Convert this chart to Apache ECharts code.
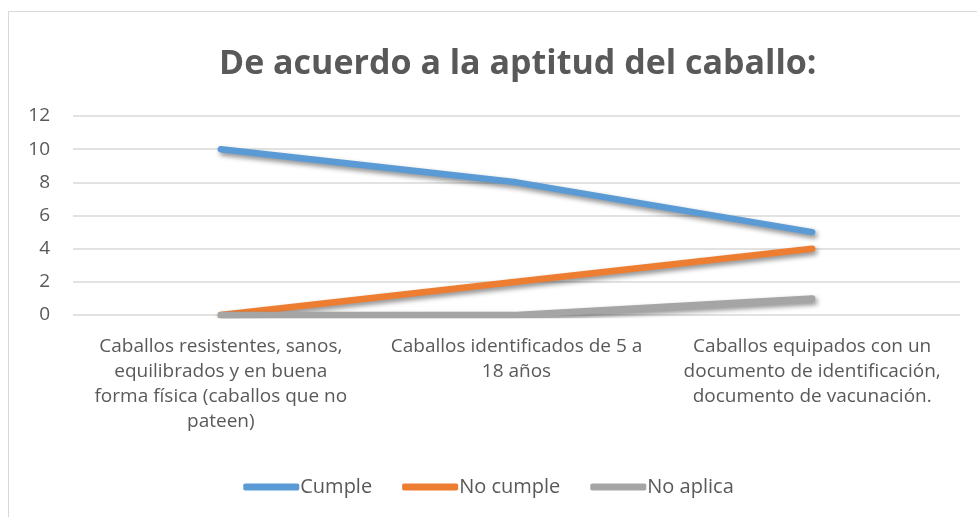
<!DOCTYPE html>
<html>
<head>
<meta charset="utf-8">
<script src="https://cdn.jsdelivr.net/npm/echarts@6/dist/echarts.min.js"></script>
<style>
  html, body { margin: 0; padding: 0; background: #fff; }
  #frame { position: absolute; left: 8px; top: 11px; width: 990px; height: 520px; border: 1px solid #d9d9d9; box-sizing: border-box; }
  #main { position: absolute; left: 0; top: 0; width: 977px; height: 517px; }
</style>
</head>
<body>
<div id="frame"></div>
<div id="main"></div>
<script>
  // categorias y series
  var categories = [
    'Caballos resistentes, sanos,\nequilibrados y en buena\nforma física (caballos que no\npateen)',
    'Caballos identificados de 5 a\n18 años',
    'Caballos equipados con un\ndocumento de identificación,\ndocumento de vacunación.'
  ];
  var cumple = [10, 8, 5];
  var noCumple = [0, 2, 4];
  var noAplica = [0, 0, 1];

  var font = "'Open Sans', 'Noto Sans', sans-serif";

  function serie(name, data, color) {
    return {
      name: name,
      type: 'line',
      data: data,
      symbol: 'none',
      color: color,
      lineStyle: {
        width: 6.5,
        cap: 'round',
        join: 'round',
        shadowColor: 'rgba(0,0,0,0.45)',
        shadowBlur: 5,
        shadowOffsetX: 2,
        shadowOffsetY: 3
      }
    };
  }

  var myChart = echarts.init(document.getElementById('main'));
  myChart.setOption({
    animation: false,
    title: {
      text: 'De acuerdo a la aptitud del caballo:',
      left: 214,
      top: 42,
      textStyle: { fontFamily: font, fontWeight: 'bold', fontSize: 34, color: '#595959' }
    },
    grid: { left: 73, right: 17, top: 116, bottom: 202 },
    legend: {
      bottom: 15,
      left: 'center',
      icon: 'roundRect',
      itemWidth: 56,
      itemHeight: 7,
      itemGap: 30,
      textStyle: { fontFamily: font, fontSize: 20, color: '#595959', padding: [0, 0, 0, -4] },
      data: ['Cumple', 'No cumple', 'No aplica']
    },
    xAxis: {
      type: 'category',
      data: categories,
      boundaryGap: true,
      axisLine: { show: false },
      axisTick: { show: false },
      axisLabel: {
        interval: 0,
        margin: 19,
        lineHeight: 25,
        fontFamily: font,
        fontSize: 19,
        color: '#595959'
      }
    },
    yAxis: {
      type: 'value',
      min: 0,
      max: 12,
      interval: 2,
      axisLine: { show: false },
      axisTick: { show: false },
      axisLabel: { fontFamily: font, fontSize: 19, color: '#595959', margin: 23 },
      splitLine: { lineStyle: { color: '#d9d9d9', width: 1.5 } }
    },
    series: [
      serie('Cumple', cumple, '#5b9bd5'),
      serie('No cumple', noCumple, '#ed7d31'),
      serie('No aplica', noAplica, '#a5a5a5')
    ]
  });
</script>
</body>
</html>
